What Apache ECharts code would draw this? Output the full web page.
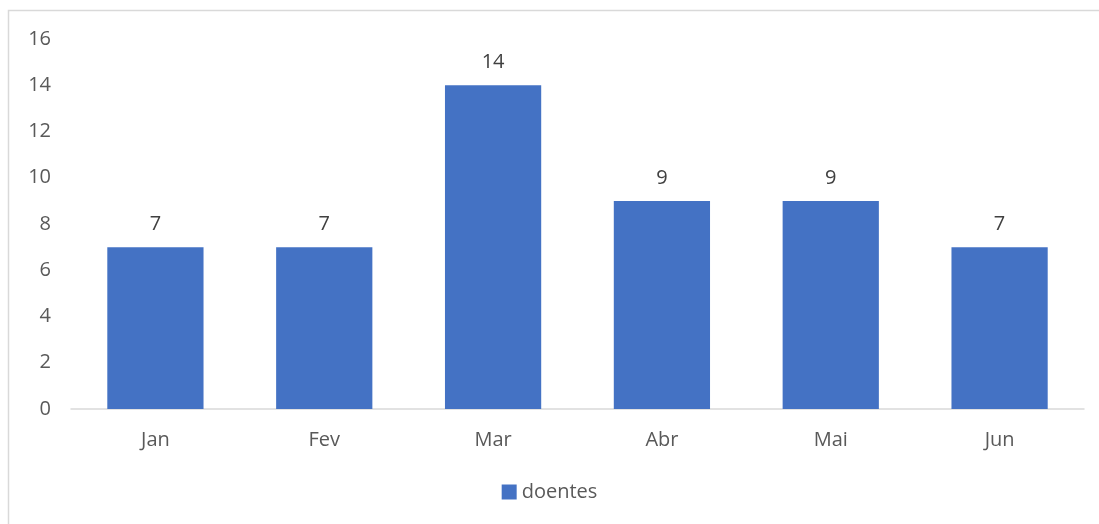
<!DOCTYPE html>
<html>
<head>
<meta charset="utf-8">
<script src="https://cdn.jsdelivr.net/npm/echarts@6/dist/echarts.min.js"></script>
<style>
  html, body { margin: 0; padding: 0; background: #fff; }
  #myChart { width: 1099px; height: 524px; }
</style>
</head>
<body>
<div id="myChart"></div>
<script>
const categories = ['Jan', 'Fev', 'Mar', 'Abr', 'Mai', 'Jun']
const doentes = [7, 7, 14, 9, 9, 7]
const seriesName = 'doentes'

const font = '"Open Sans", "Noto Sans", sans-serif'
let myChart = echarts.init(document.getElementById('myChart'))
let option = {
    animation: false,
    textStyle: { fontFamily: font },
    graphic: [
        {
            type: 'rect',
            shape: { x: 8.5, y: 10.5, width: 1300, height: 700 },
            style: { fill: 'none', stroke: '#d9d9d9', lineWidth: 1.5 },
            silent: true
        }
    ],
    grid: { left: 71, right: 15, top: 39, bottom: 115 },
    legend: {
        data: [seriesName],
        bottom: 17,
        left: 'center',
        icon: 'rect',
        itemWidth: 15,
        itemHeight: 15,
        itemGap: 4,
        textStyle: { color: '#595959', fontSize: 20, fontFamily: font }
    },
    xAxis: {
        type: 'category',
        data: categories,
        axisTick: { show: false },
        axisLine: { lineStyle: { color: '#d9d9d9', width: 1.5 } },
        axisLabel: { color: '#595959', fontSize: 20, margin: 21, fontFamily: font }
    },
    yAxis: {
        type: 'value',
        min: 0,
        max: 16,
        interval: 2,
        splitLine: { show: false },
        axisLine: { show: false },
        axisTick: { show: false },
        axisLabel: { color: '#595959', fontSize: 20, margin: 20, fontFamily: font }
    },
    series: [
        {
            name: seriesName,
            type: 'bar',
            barWidth: '57%',
            itemStyle: { color: '#4472C4' },
            label: {
                show: true,
                position: 'top',
                distance: 13,
                color: '#404040',
                fontSize: 20,
                fontFamily: font
            },
            data: doentes
        }
    ]
}
myChart.setOption(option)
</script>
</body>
</html>
